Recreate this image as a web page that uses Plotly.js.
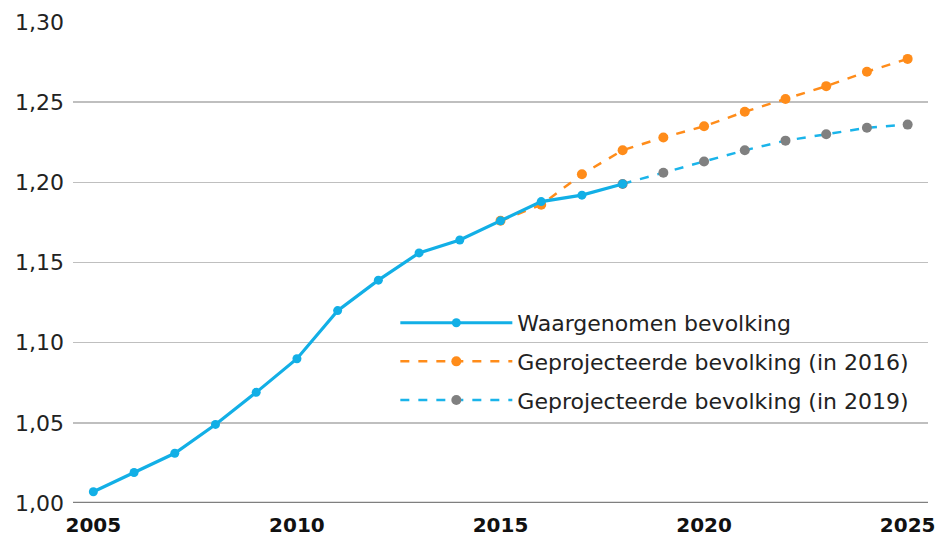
<!DOCTYPE html>
<html>
<head>
<meta charset="utf-8">
<script src="https://cdn.plot.ly/plotly-3.0.1.min.js"></script>
<style>html,body{margin:0;padding:0;background:#fff;}#chart{width:936px;height:542px;}</style>
</head>
<body>
<div id="chart"></div>
<script>
var obsYears = [2005,2006,2007,2008,2009,2010,2011,2012,2013,2014,2015,2016,2017,2018];
var obsValues = [1.007,1.019,1.031,1.049,1.069,1.090,1.120,1.139,1.156,1.164,1.176,1.188,1.192,1.199];

var proj2016Years = [2015,2016,2017,2018,2019,2020,2021,2022,2023,2024,2025];
var proj2016Values = [1.176,1.186,1.205,1.220,1.228,1.235,1.244,1.252,1.260,1.269,1.277];

var proj2019Years = [2018,2019,2020,2021,2022,2023,2024,2025];
var proj2019Values = [1.199,1.206,1.213,1.220,1.226,1.230,1.234,1.236];

var seriesNames = ["Waargenomen bevolking","Geprojecteerde bevolking (in 2016)","Geprojecteerde bevolking (in 2019)"];
var yTicks = [1.00,1.05,1.10,1.15,1.20,1.25,1.30];
var xTicks = [2005,2010,2015,2020,2025];

var FONT = "'DejaVu Sans', sans-serif";

var traces = [
  {x: proj2016Years, y: proj2016Values, name: seriesNames[1], type:'scatter', mode:'lines+markers',
   line:{color:'#ff8c1a', width:2.5, dash:'dash'}, marker:{color:'#ff8c1a', size:10},
   legendrank:2, legendgroup:'b'},
  {x: proj2019Years, y: proj2019Values, name: seriesNames[2], type:'scatter', mode:'lines+markers',
   line:{color:'#1ab4ea', width:2.5, dash:'dash'}, marker:{color:'#808080', size:10},
   legendrank:3, legendgroup:'c'},
  {x: obsYears, y: obsValues, name: seriesNames[0], type:'scatter', mode:'lines+markers',
   line:{color:'#12afe6', width:3.2}, marker:{color:'#12afe6', size:9},
   legendrank:1, legendgroup:'a'}
];

var layout = {
  width:936, height:542,
  margin:{l:73, r:8, t:22, b:39},
  paper_bgcolor:'#fff', plot_bgcolor:'#fff',
  font:{family:FONT, color:'#222'},
  separators:',.',
  showlegend:true,
  legend:{x:0.377, y:0.418, xanchor:'left', yanchor:'top', bgcolor:'rgba(0,0,0,0)',
          font:{size:22, family:FONT, color:'#222'}, tracegroupgap:7, itemwidth:112},
  xaxis:{range:[2004.5,2025.5], tickvals:xTicks, ticktext:xTicks.map(String),
         showgrid:false, zeroline:false, showline:false, ticks:'',
         tickfont:{size:20, family:FONT, color:'#111', weight:'bold'}, ticklabelstandoff:8},
  yaxis:{range:[1.0,1.3], tickvals:yTicks, tickformat:'.2f',
         showgrid:true, gridcolor:'#bfbfbf', gridwidth:1.5, zeroline:false, showline:false, ticks:'',
         tickfont:{size:22, family:FONT, color:'#222'}, ticklabelstandoff:8},
  shapes:[{type:'line', xref:'paper', yref:'y', x0:0, x1:1, y0:1.0, y1:1.0,
           line:{color:'#7f7f7f', width:2.5}, layer:'below'}]
};

Plotly.newPlot('chart', traces, layout, {displayModeBar:false, staticPlot:true});
</script>
</body>
</html>
